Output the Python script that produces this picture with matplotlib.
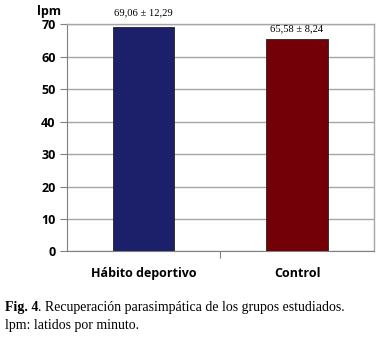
import matplotlib
matplotlib.use("Agg")
import matplotlib.pyplot as plt

categories = ["Hábito deportivo", "Control"]
values = [69.06, 65.58]
sds = [12.29, 8.24]
value_labels = ["69,06 ± 12,29", "65,58 ± 8,24"]
colors = ["#1c206a", "#730006"]
yticks = [0, 10, 20, 30, 40, 50, 60, 70]

fig = plt.figure(figsize=(3.78, 3.38), dpi=100)
ax = fig.add_axes([0.1765, 0.256, 0.8125, 0.672])

x = [0, 1]
ax.bar(x, values, width=0.40, color=colors, edgecolor="#222222", linewidth=0.6, zorder=3)
ax.set_xlim(-0.5, 1.5)
ax.set_ylim(0, 70)
ax.set_yticks(yticks)
ax.set_yticklabels([str(t) for t in yticks], fontsize=9, fontweight="bold", family="Open Sans")
ax.set_xticks(x)
ax.set_xticklabels(categories, fontsize=9, fontweight="bold", family="Open Sans")
ax.tick_params(axis="x", length=0, pad=11)
ax.tick_params(axis="y", length=5, width=0.8, color="#808080", pad=3)
ax.set_xticks([0.5], minor=True)
ax.tick_params(axis="x", which="minor", length=5, direction="out", color="#808080", width=0.8)
ax.grid(axis="y", color="#a6a6a6", linewidth=1.0, zorder=0)
for side in ["top", "right"]:
    ax.spines[side].set_color("#a6a6a6")
    ax.spines[side].set_linewidth(1.0)
for side in ["left", "bottom"]:
    ax.spines[side].set_color("#808080")
    ax.spines[side].set_linewidth(0.8)

offsets = [15, 9.5]
for xi, v, lab, off in zip(x, values, value_labels, offsets):
    ax.annotate(lab, (xi, v), xytext=(0, off * 0.72), textcoords="offset points",
                ha="center", va="center", fontsize=7.6, family="Liberation Serif")

fig.text(37 / 378, 1 - 12 / 338, "lpm", fontsize=9, fontweight="bold", family="Open Sans",
         ha="left", va="center")

t1 = fig.text(5 / 378, 1 - 308 / 338, "Fig. 4", fontsize=10, fontweight="bold",
              family="Liberation Serif", ha="left", va="center")
fig.canvas.draw()
bb = t1.get_window_extent()
fig.text(bb.x1 / 378, 1 - 308 / 338, ". Recuperación parasimpática de los grupos estudiados.",
         fontsize=10, family="Liberation Serif", ha="left", va="center")
fig.text(5 / 378, 1 - 325 / 338, "lpm: latidos por minuto.", fontsize=10,
         family="Liberation Serif", ha="left", va="center")

fig.savefig("out.png", dpi=100)
